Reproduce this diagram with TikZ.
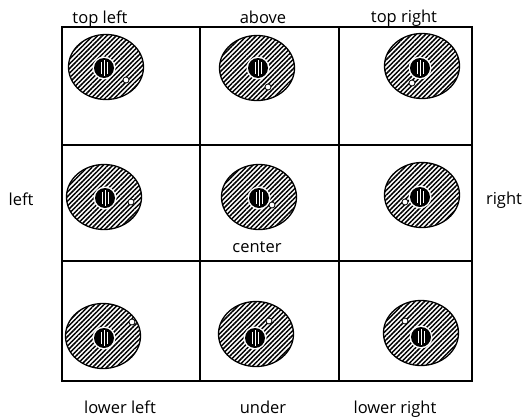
\documentclass[tikz,border=0pt]{standalone}
\usepackage{fontspec}
\setmainfont{Open Sans}
\usetikzlibrary{patterns.meta,shapes.geometric}
\tikzset{
  cell/.style={draw, line width=1.7pt, rectangle, inner sep=0pt, outer sep=0pt},
  ring/.style={draw, ellipse, line width=1.3pt, inner sep=0pt, minimum width=75pt, minimum height=65pt,
    pattern={Lines[angle=45,distance=3.3pt,line width=1.5pt]}, pattern color=black},
  halo/.style={circle, fill=white, inner sep=0pt, minimum size=23pt},
  core/.style={circle, fill=black, inner sep=0pt, minimum size=20pt},
  stripe/.style={white, line width=0.9pt},
  dot/.style={circle, draw, fill=white, line width=0.8pt, inner sep=0pt, minimum size=6pt},
  lbl/.style={font=\fontsize{16.5}{19}\selectfont, anchor=base, inner sep=0pt}
}
\newcommand{\mydonut}[7]{%
  \node[ring] (r#1) at (#2,#3) {};
  \node[halo] (h#1) at (#4,#5) {};
  \node[core] (k#1) at (#4,#5) {};
  \draw[stripe] ([xshift=-3pt,yshift=-6pt]k#1.center) -- ([xshift=-3pt,yshift=6pt]k#1.center);
  \draw[stripe] ([xshift=0.5pt,yshift=-8pt]k#1.center) -- ([xshift=0.5pt,yshift=8pt]k#1.center);
  \draw[stripe] ([xshift=3.5pt,yshift=-6pt]k#1.center) -- ([xshift=3.5pt,yshift=6pt]k#1.center);
  \node[dot] (s#1) at (#6,#7) {};
}
\begin{document}
\begin{tikzpicture}[x=1pt,y=-1pt]
\useasboundingbox[fill=white] (0,0) rectangle (523,418);
% cells
\node[cell, minimum width=138pt, minimum height=118pt] (c11) at (131,86) {};
\node[cell, minimum width=139pt, minimum height=118pt] (c12) at (269.5,86) {};
\node[cell, minimum width=133pt, minimum height=118pt] (c13) at (405.5,86) {};
\node[cell, minimum width=138pt, minimum height=116pt] (c21) at (131,203) {};
\node[cell, minimum width=139pt, minimum height=116pt] (c22) at (269.5,203) {};
\node[cell, minimum width=133pt, minimum height=116pt] (c23) at (405.5,203) {};
\node[cell, minimum width=138pt, minimum height=120pt] (c31) at (131,321) {};
\node[cell, minimum width=139pt, minimum height=120pt] (c32) at (269.5,321) {};
\node[cell, minimum width=133pt, minimum height=120pt] (c33) at (405.5,321) {};
% donuts
\mydonut{1}{106}{67}{104}{68}{126}{80}
\mydonut{2}{257}{68}{258}{68}{268}{87}
\mydonut{3}{422}{66}{420}{68}{412}{83}
\mydonut{4}{104}{197}{105}{198}{131}{202}
\mydonut{5}{259}{197}{259}{198}{272}{205}
\mydonut{6}{422}{195}{420}{197}{405}{202}
\mydonut{7}{103}{336}{104}{338}{132}{322}
\mydonut{8}{256}{334}{255}{338}{269}{321}
\mydonut{9}{421}{333}{421}{337}{405}{321}
% labels
\node[lbl] (ltl) at (100,23) {top left};
\node[lbl] (lab) at (263,23) {above};
\node[lbl] (ltr) at (404,22) {top right};
\node[lbl] (lle) at (21,205) {left};
\node[lbl] (lri) at (504,204) {right};
\node[lbl] (lce) at (257,252) {center};
\node[lbl] (lll) at (120,413) {lower left};
\node[lbl] (lun) at (263,413) {under};
\node[lbl] (llr) at (395,413) {lower right};
\end{tikzpicture}
\end{document}
